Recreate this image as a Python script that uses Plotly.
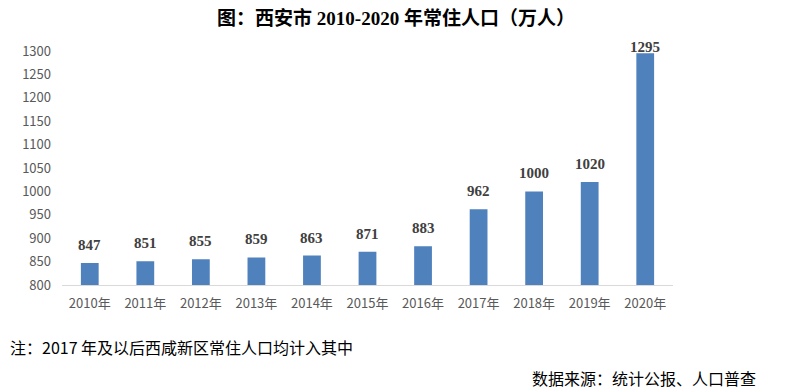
import plotly.graph_objects as go

years = ["2010年", "2011年", "2012年", "2013年", "2014年", "2015年", "2016年", "2017年", "2018年", "2019年", "2020年"]
population = [847, 851, 855, 859, 863, 871, 883, 962, 1000, 1020, 1295]
y_ticks = [800, 850, 900, 950, 1000, 1050, 1100, 1150, 1200, 1250, 1300]

title_text = "图：西安市 2010-2020 年常住人口（万人）"
note_text = "注：2017 年及以后西咸新区常住人口均计入其中"
source_text = "数据来源：统计公报、人口普查"

# page body has an 8px default margin; figure is sized to fit the window
W, H = 781, 383
L, R, T, B = 54, 116, 43, 106
PW, PH = W - L - R, H - T - B

fig = go.Figure()
fig.add_trace(go.Bar(
    x=years, y=population,
    marker=dict(color="#4F81BD", line=dict(width=0)),
    width=0.32,
    hoverinfo="x+y",
))

value_labels = []
for yr, v in zip(years, population):
    value_labels.append(dict(
        x=yr, y=v, xref="x", yref="y", text="<b>%d</b>" % v,
        showarrow=False, yanchor="middle", xanchor="center",
        yshift=18 if v < 1280 else 6,
        font=dict(family="Liberation Serif, Noto Sans CJK SC", size=15, color="#404040"),
    ))

fig.update_layout(
    width=W, height=H,
    margin=dict(l=L, r=R, t=T, b=B),
    paper_bgcolor="white", plot_bgcolor="white",
    showlegend=False,
    font=dict(family="Noto Sans CJK SC", color="#595959", size=13),
    title=dict(
        text="<b>" + title_text + "</b>",
        x=388 / W, xref="container", xanchor="center",
        y=1 - 10 / H, yref="container", yanchor="middle",
        font=dict(family="Liberation Serif, Noto Sans CJK SC", size=19, color="#000000"),
    ),
    xaxis=dict(
        showline=True, linecolor="#D9D9D9", linewidth=1,
        ticks="", ticklabelstandoff=6,
        tickfont=dict(family="Noto Sans CJK SC", size=13, color="#595959"),
        showgrid=False,
    ),
    yaxis=dict(
        range=[800, 1300], tickvals=y_ticks,
        showgrid=False, showline=False, zeroline=False,
        ticks="", ticklabelstandoff=10,
        tickfont=dict(family="Noto Sans CJK SC", size=13, color="#595959"),
    ),
    annotations=value_labels + [
        dict(text=note_text, xref="paper", yref="paper", x=-L / PW, y=-(339 - T - PH) / PH,
             xanchor="left", yanchor="middle", showarrow=False,
             font=dict(family="Noto Sans CJK SC", size=16, color="#000000")),
        dict(text=source_text, xref="paper", yref="paper", x=(522 - L) / PW, y=-(370 - T - PH) / PH,
             xanchor="left", yanchor="middle", showarrow=False,
             font=dict(family="Noto Sans CJK SC", size=16, color="#000000")),
    ],
)

fig.write_html("out.html")
